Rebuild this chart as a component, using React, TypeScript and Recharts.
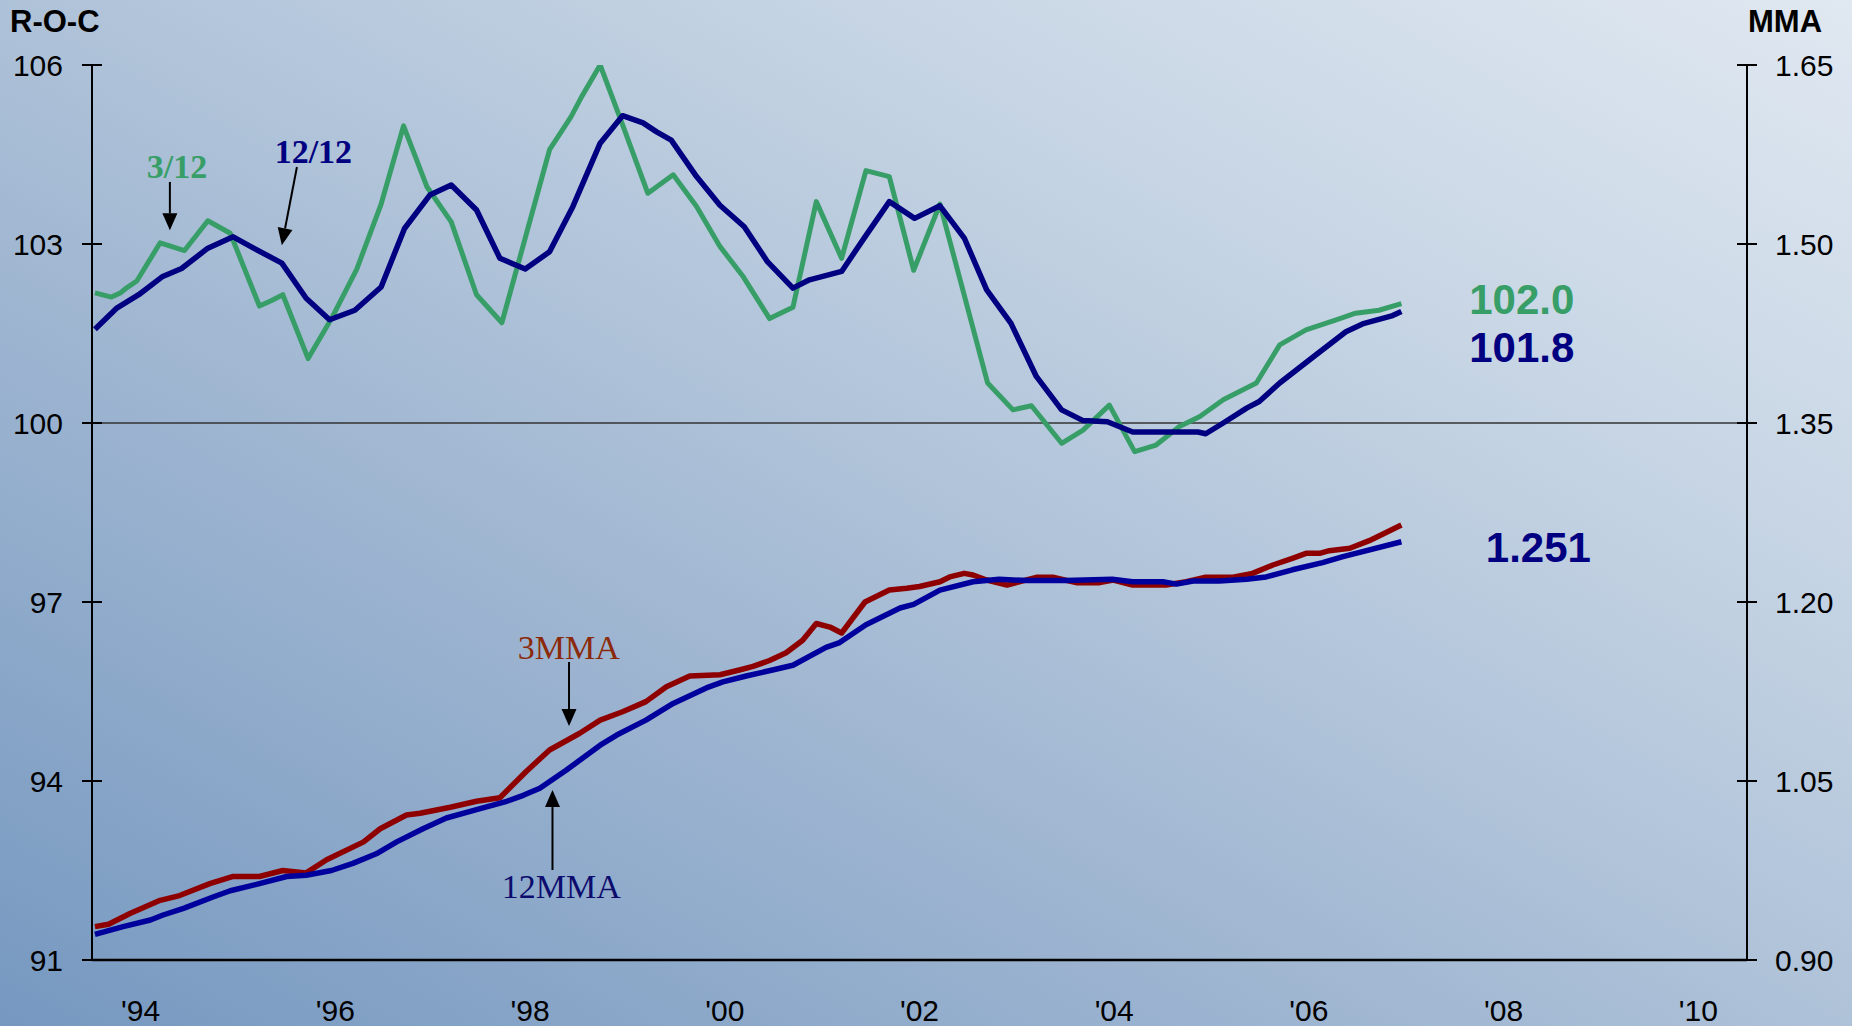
import React from 'react';
import { LineChart, Line, XAxis, YAxis, ReferenceLine, ReferenceDot } from 'recharts';

// ---- Data (year as decimal) ----
const roc312Years = [1994.03, 1994.2, 1994.29, 1994.36, 1994.46, 1994.7, 1994.95, 1995.19, 1995.42, 1995.72, 1995.84, 1995.96, 1996.22, 1996.46, 1996.72, 1996.97, 1997.2, 1997.44, 1997.69, 1997.95, 1998.21, 1998.7, 1998.92, 1999.03, 1999.22, 1999.42, 1999.71, 1999.97, 2000.21, 2000.45, 2000.69, 2000.96, 2001.2, 2001.44, 2001.7, 2001.95, 2002.19, 2002.44, 2002.71, 2003.2, 2003.46, 2003.65, 2003.96, 2004.18, 2004.45, 2004.71, 2004.93, 2005.17, 2005.38, 2005.62, 2005.96, 2006.2, 2006.47, 2006.78, 2006.98, 2007.22, 2007.45];
const roc312Values = [102.18, 102.11, 102.18, 102.27, 102.38, 103.02, 102.89, 103.39, 103.18, 101.96, 102.05, 102.15, 101.08, 101.75, 102.58, 103.67, 104.98, 103.96, 103.37, 102.15, 101.68, 104.58, 105.13, 105.47, 106.0, 105.13, 103.85, 104.16, 103.63, 102.96, 102.45, 101.75, 101.94, 103.71, 102.76, 104.23, 104.13, 102.56, 103.67, 100.67, 100.22, 100.29, 99.66, 99.88, 100.3, 99.52, 99.63, 99.94, 100.11, 100.39, 100.67, 101.31, 101.56, 101.73, 101.84, 101.89, 102.0];

const roc1212Years = [1994.03, 1994.25, 1994.48, 1994.72, 1994.92, 1995.19, 1995.45, 1995.66, 1995.95, 1996.2, 1996.44, 1996.7, 1996.97, 1997.21, 1997.47, 1997.69, 1997.95, 1998.19, 1998.45, 1998.7, 1998.94, 1999.22, 1999.45, 1999.66, 1999.8, 1999.95, 2000.21, 2000.45, 2000.7, 2000.94, 2001.2, 2001.37, 2001.7, 2001.94, 2002.19, 2002.45, 2002.71, 2002.96, 2003.19, 2003.44, 2003.7, 2003.96, 2004.18, 2004.43, 2004.69, 2005.36, 2005.44, 2005.62, 2005.86, 2005.99, 2006.2, 2006.57, 2006.88, 2007.05, 2007.36, 2007.45];
const roc1212Values = [101.57, 101.92, 102.15, 102.45, 102.59, 102.93, 103.12, 102.93, 102.68, 102.09, 101.73, 101.89, 102.28, 103.26, 103.82, 103.99, 103.57, 102.76, 102.58, 102.87, 103.63, 104.69, 105.15, 105.03, 104.88, 104.74, 104.13, 103.65, 103.29, 102.7, 102.26, 102.4, 102.54, 103.12, 103.71, 103.43, 103.64, 103.1, 102.23, 101.67, 100.78, 100.22, 100.04, 100.02, 99.85, 99.85, 99.82, 100.0, 100.25, 100.36, 100.67, 101.14, 101.53, 101.66, 101.8, 101.87];

const mma3Years = [1994.03, 1994.17, 1994.39, 1994.7, 1994.9, 1995.21, 1995.45, 1995.72, 1995.96, 1996.2, 1996.41, 1996.79, 1996.96, 1997.23, 1997.37, 1997.68, 1997.95, 1998.19, 1998.46, 1998.7, 1999.01, 1999.22, 1999.45, 1999.69, 1999.9, 2000.14, 2000.45, 2000.65, 2000.79, 2000.96, 2001.13, 2001.3, 2001.44, 2001.58, 2001.7, 2001.94, 2002.19, 2002.37, 2002.5, 2002.71, 2002.81, 2002.96, 2003.05, 2003.19, 2003.4, 2003.7, 2003.87, 2004.11, 2004.35, 2004.49, 2004.69, 2005.03, 2005.24, 2005.44, 2005.72, 2005.92, 2006.13, 2006.33, 2006.47, 2006.61, 2006.71, 2006.92, 2007.12, 2007.45];
const mma3Values = [0.928, 0.93, 0.939, 0.95, 0.954, 0.964, 0.97, 0.97, 0.975, 0.973, 0.984, 0.999, 1.01, 1.0215, 1.023, 1.028, 1.033, 1.036, 1.058, 1.076, 1.09, 1.101, 1.108, 1.1165, 1.129, 1.138, 1.139, 1.143, 1.146, 1.151, 1.1575, 1.168, 1.182, 1.179, 1.174, 1.2, 1.21, 1.2115, 1.213, 1.217, 1.221, 1.224, 1.2226, 1.2184, 1.2142, 1.2207, 1.2207, 1.2162, 1.2162, 1.2184, 1.2142, 1.2142, 1.217, 1.2207, 1.2207, 1.224, 1.231, 1.2366, 1.2408, 1.2408, 1.243, 1.245, 1.2514, 1.2645];

const mma12Years = [1994.03, 1994.32, 1994.6, 1994.73, 1994.94, 1995.25, 1995.42, 1995.72, 1996.0, 1996.2, 1996.46, 1996.68, 1996.92, 1997.13, 1997.4, 1997.64, 1997.95, 1998.26, 1998.43, 1998.6, 1998.87, 1999.22, 1999.39, 1999.69, 1999.97, 2000.31, 2000.48, 2000.72, 2000.99, 2001.2, 2001.54, 2001.68, 2001.95, 2002.3, 2002.44, 2002.71, 2003.05, 2003.32, 2003.6, 2004.0, 2004.48, 2004.69, 2005.0, 2005.14, 2005.31, 2005.58, 2005.86, 2006.06, 2006.33, 2006.64, 2006.85, 2007.45];
const mma12Values = [0.9215, 0.928, 0.9335, 0.9377, 0.9433, 0.953, 0.958, 0.964, 0.97, 0.971, 0.975, 0.981, 0.989, 0.999, 1.01, 1.019, 1.026, 1.033, 1.038, 1.044, 1.059, 1.08, 1.0885, 1.101, 1.115, 1.128, 1.133, 1.138, 1.143, 1.147, 1.162, 1.166, 1.181, 1.195, 1.198, 1.21, 1.217, 1.219, 1.218, 1.218, 1.219, 1.217, 1.217, 1.215, 1.2176, 1.2176, 1.219, 1.221, 1.227, 1.233, 1.238, 1.2505];

const yearBoundaryTicks = [1994, 1995, 1996, 1997, 1998, 1999, 2000, 2001, 2002, 2003, 2004, 2005, 2006, 2007, 2008, 2009, 2010, 2011];
const yearLabelTicks = [1994.5, 1996.5, 1998.5, 2000.5, 2002.5, 2004.5, 2006.5, 2008.5, 2010.5];
const yearLabels = ["'94", "'96", "'98", "'00", "'02", "'04", "'06", "'08", "'10"];
const rocTicks = [91, 94, 97, 100, 103, 106];
const mmaTicks = [0.9, 1.05, 1.2, 1.35, 1.5, 1.65];

const toPoints = (xs: number[], ys: number[]) => xs.map((x, i) => ({ x, y: ys[i] }));
const data312 = toPoints(roc312Years, roc312Values);
const data1212 = toPoints(roc1212Years, roc1212Values);
const data3mma = toPoints(mma3Years, mma3Values);
const data12mma = toPoints(mma12Years, mma12Values);

const SANS = '"Liberation Sans", Arial, sans-serif';
const SERIF = '"Liberation Serif", "Times New Roman", serif';
const GREEN = '#389e68';
const NAVY = '#000080';
const BLUE = '#00009c';
const RED = '#8e0000';

const LeftTick = (p: any) => (
  <g>
    <line x1={p.x - 10} x2={p.x + 10} y1={p.y} y2={p.y} stroke="#000" strokeWidth={2} />
    <text x={p.x - 29} y={p.y} dy={10.5} textAnchor="end" fontSize={30} fontFamily={SANS} fill="#000">
      {p.payload.value}
    </text>
  </g>
);

const RightTick = (p: any) => (
  <g>
    <line x1={p.x - 10} x2={p.x + 10} y1={p.y} y2={p.y} stroke="#000" strokeWidth={2} />
    <text x={p.x + 28} y={p.y} dy={10.5} textAnchor="start" fontSize={30} fontFamily={SANS} fill="#000">
      {Number(p.payload.value).toFixed(2)}
    </text>
  </g>
);

const XLabelTick = (p: any) => {
  const idx = yearLabelTicks.indexOf(p.payload.value);
  return (
    <text x={p.x} y={p.y} dy={60} textAnchor="middle" fontSize={30} fontFamily={SANS} fill="#000">
      {idx >= 0 ? yearLabels[idx] : ''}
    </text>
  );
};

const arrowShape = (props: any) => {
  const { x1, y1, x2, y2 } = props;
  if ([x1, y1, x2, y2].some((v) => v === undefined || isNaN(v))) return <g />;
  const dx = x2 - x1;
  const dy = y2 - y1;
  const len = Math.sqrt(dx * dx + dy * dy) || 1;
  const ux = dx / len;
  const uy = dy / len;
  const hl = 17;
  const hw = 7.5;
  const bx = x2 - ux * hl;
  const by = y2 - uy * hl;
  const pts = `${x2},${y2} ${bx - uy * hw},${by + ux * hw} ${bx + uy * hw},${by - ux * hw}`;
  return (
    <g>
      <line x1={x1} y1={y1} x2={bx} y2={by} stroke="#000" strokeWidth={2} />
      <polygon points={pts} fill="#000" />
    </g>
  );
};

const textShape = (label: string, color: string, size: number, family: string, weight: string) => (props: any) => (
  <text x={props.cx} y={props.cy} textAnchor="middle" fontSize={size} fontFamily={family} fontWeight={weight} fill={color}>
    {label}
  </text>
);

export default function App() {
  return (
    <div
      style={{
        position: 'absolute',
        left: 0,
        top: 0,
        width: 1852,
        height: 1026,
        overflow: 'hidden',
        background: 'linear-gradient(to top right, #7698c0 0%, #a3b9d3 40%, #c4d3e3 70%, #e0e8f1 100%)',
      }}
    >
      <LineChart width={1852} height={1026} margin={{ top: 65, right: 0, bottom: 0, left: 0 }}>
        <XAxis
          xAxisId="b"
          type="number"
          dataKey="x"
          domain={[1994, 2011]}
          ticks={yearBoundaryTicks}
          allowDataOverflow
          tick={false}
          tickSize={11}
          height={1}
          axisLine={{ stroke: '#000', strokeWidth: 2.5 }}
          tickLine={{ stroke: '#000', strokeWidth: 2 }}
        />
        <XAxis
          xAxisId="l"
          type="number"
          dataKey="x"
          domain={[1994, 2011]}
          ticks={yearLabelTicks}
          allowDataOverflow
          tick={XLabelTick}
          tickSize={0}
          tickMargin={0}
          height={65}
          axisLine={false}
          tickLine={false}
          interval={0}
        />
        <YAxis
          yAxisId="roc"
          type="number"
          domain={[91, 106]}
          ticks={rocTicks}
          allowDataOverflow
          width={92}
          tickSize={0}
          tickMargin={0}
          tickLine={false}
          axisLine={{ stroke: '#000', strokeWidth: 2 }}
          tick={LeftTick}
          interval={0}
          label={() => (
            <text x={10} y={32} fontSize={31} fontWeight="bold" fontFamily={SANS} fill="#000">
              R-O-C
            </text>
          )}
        />
        <YAxis
          yAxisId="mma"
          orientation="right"
          type="number"
          domain={[0.9, 1.65]}
          ticks={mmaTicks}
          allowDataOverflow
          width={105}
          tickSize={0}
          tickMargin={0}
          tickLine={false}
          axisLine={{ stroke: '#000', strokeWidth: 2 }}
          tick={RightTick}
          interval={0}
          label={() => (
            <text x={1748} y={32} fontSize={31} fontWeight="bold" fontFamily={SANS} fill="#000">
              MMA
            </text>
          )}
        />

        <ReferenceLine xAxisId="b" yAxisId="roc" y={100} stroke="#333" strokeWidth={1.5} />

        <Line xAxisId="b" yAxisId="roc" data={data312} dataKey="y" type="linear" stroke={GREEN} strokeWidth={5} dot={false} isAnimationActive={false} strokeLinejoin="round" />
        <Line xAxisId="b" yAxisId="roc" data={data1212} dataKey="y" type="linear" stroke={NAVY} strokeWidth={5.5} dot={false} isAnimationActive={false} strokeLinejoin="round" />
        <Line xAxisId="b" yAxisId="mma" data={data3mma} dataKey="y" type="linear" stroke={RED} strokeWidth={5.5} dot={false} isAnimationActive={false} strokeLinejoin="round" />
        <Line xAxisId="b" yAxisId="mma" data={data12mma} dataKey="y" type="linear" stroke={BLUE} strokeWidth={5.5} dot={false} isAnimationActive={false} strokeLinejoin="round" />

        <ReferenceLine xAxisId="b" yAxisId="roc" segment={[{ x: 1994.8, y: 104.04 }, { x: 1994.8, y: 103.23 }]} shape={arrowShape} ifOverflow="visible" />
        <ReferenceLine xAxisId="b" yAxisId="roc" segment={[{ x: 1996.105, y: 104.29 }, { x: 1995.95, y: 102.98 }]} shape={arrowShape} ifOverflow="visible" />
        <ReferenceLine xAxisId="b" yAxisId="mma" segment={[{ x: 1998.9, y: 1.1497 }, { x: 1998.9, y: 1.0961 }]} shape={arrowShape} ifOverflow="visible" />
        <ReferenceLine xAxisId="b" yAxisId="mma" segment={[{ x: 1998.73, y: 0.9754 }, { x: 1998.73, y: 1.0424 }]} shape={arrowShape} ifOverflow="visible" />

        <ReferenceDot xAxisId="b" yAxisId="roc" x={1994.873} y={104.106} r={0} shape={textShape('3/12', GREEN, 34, SERIF, 'bold')} ifOverflow="visible" />
        <ReferenceDot xAxisId="b" yAxisId="roc" x={1996.274} y={104.358} r={0} shape={textShape('12/12', NAVY, 34, SERIF, 'bold')} ifOverflow="visible" />
        <ReferenceDot xAxisId="b" yAxisId="mma" x={1998.897} y={1.1522} r={0} shape={textShape('3MMA', '#8b2a0a', 34, SERIF, 'normal')} ifOverflow="visible" />
        <ReferenceDot xAxisId="b" yAxisId="mma" x={1998.82} y={0.952} r={0} shape={textShape('12MMA', '#0c0c6e', 34, SERIF, 'normal')} ifOverflow="visible" />
        <ReferenceDot xAxisId="b" yAxisId="roc" x={2008.687} y={101.827} r={0} shape={textShape('102.0', GREEN, 42, SANS, 'bold')} ifOverflow="visible" />
        <ReferenceDot xAxisId="b" yAxisId="roc" x={2008.687} y={101.023} r={0} shape={textShape('101.8', NAVY, 42, SANS, 'bold')} ifOverflow="visible" />
        <ReferenceDot xAxisId="b" yAxisId="mma" x={2008.857} y={1.2335} r={0} shape={textShape('1.251', NAVY, 42, SANS, 'bold')} ifOverflow="visible" />
      </LineChart>
    </div>
  );
}
